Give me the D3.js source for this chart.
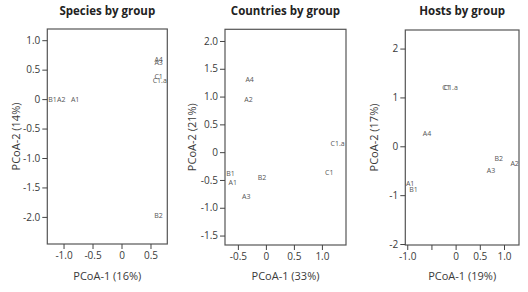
<!DOCTYPE html>
<html>
<head>
<meta charset="utf-8">
<script src="https://cdn.jsdelivr.net/npm/d3@7"></script>
<style>
  body { margin: 0; background: #fff; }
  svg { display: block; font-family: "Open Sans", sans-serif; }
</style>
</head>
<body>
<script>
// values (labels centred on their points)
const speciesLabels = ['B1', 'A2', 'A1', 'A4', 'A3', 'C1', 'C1.a', 'B2'],
      speciesX = [-1.19, -1.04, -0.80, 0.64, 0.64, 0.64, 0.66, 0.64],
      speciesY = [0, 0, 0, 0.67, 0.62, 0.38, 0.32, -1.98];

const countryLabels = ['A4', 'A2', 'C1.a', 'C1', 'B1', 'A1', 'B2', 'A3'],
      countryX = [-0.29, -0.31, 1.28, 1.13, -0.63, -0.59, -0.07, -0.35],
      countryY = [1.30, 0.94, 0.16, -0.37, -0.38, -0.55, -0.46, -0.79];

const hostLabels = ['C1', 'C1.a', 'A4', 'B2', 'A2', 'A3', 'A1', 'B1'],
      hostX = [-0.19, -0.10, -0.59, 0.89, 1.22, 0.73, -0.94, -0.87],
      hostY = [1.20, 1.20, 0.27, -0.25, -0.36, -0.49, -0.76, -0.88];

const titles = ['Species by group', 'Countries by group', 'Hosts by group'],
      xTitles = ['PCoA-1 (16%)', 'PCoA-1 (33%)', 'PCoA-1 (19%)'],
      yTitles = ['PCoA-2 (14%)', 'PCoA-2 (21%)', 'PCoA-2 (17%)'];

const speciesXTicks = [-1.0, -0.5, 0, 0.5],
      speciesYTicks = [1.0, 0.5, 0, -0.5, -1.0, -1.5, -2.0],
      countryXTicks = [-0.5, 0, 0.5, 1.0],
      countryYTicks = [2.0, 1.5, 1.0, 0.5, 0, -0.5, -1.0, -1.5],
      hostXTicks = [-1.0, -0.5, 0, 0.5, 1.0],
      hostXTickLabels = ['-1.0', '', '0', '0.5', '1.0'],
      hostYTicks = [2, 1, 0, -1, -2];

const width = 528,
      height = 292;

const svg = d3.select('body')
              .append('svg')
              .attr('width', width)
              .attr('height', height);

const fmt1 = (d) => d === 0 ? '0' : d3.format('.1f')(d).replace('−', '-');

const panels = [
  {
    box: [47.3, 167.3, 29, 244],
    xDomain: [-1.28, 0.79], yDomain: [-2.46, 1.19],
    labels: speciesLabels, xs: speciesX, ys: speciesY,
    xTicks: speciesXTicks, yTicks: speciesYTicks,
    xFmt: fmt1, yFmt: fmt1,
    yTitleX: 16
  },
  {
    box: [225, 346, 29.3, 245],
    xDomain: [-0.73, 1.43], yDomain: [-1.67, 2.21],
    labels: countryLabels, xs: countryX, ys: countryY,
    xTicks: countryXTicks, yTicks: countryYTicks,
    xFmt: fmt1, yFmt: fmt1,
    yTitleX: 192
  },
  {
    box: [405.3, 519, 30, 245],
    xDomain: [-1.04, 1.31], yDomain: [-2.02, 2.38],
    labels: hostLabels, xs: hostX, ys: hostY,
    xTicks: hostXTicks, yTicks: hostYTicks,
    xFmt: (d) => hostXTickLabels[hostXTicks.indexOf(d)],
    yFmt: (d) => String(d).replace('−', '-'),
    yTitleX: 374
  }
];

panels.forEach(function(p, i) {
  const [x0, x1, y0, y1] = p.box;

  const xScale = d3.scaleLinear().domain(p.xDomain).range([x0, x1]),
        yScale = d3.scaleLinear().domain(p.yDomain).range([y1, y0]);

  const g = svg.append('g');

  g.append('text')
   .attr('x', (x0 + x1) / 2)
   .attr('y', 15)
   .attr('text-anchor', 'middle')
   .style('font-size', '11.5px')
   .style('font-weight', 'bold')
   .attr('fill', '#222')
   .text(titles[i]);

  g.append('rect')
   .attr('x', x0)
   .attr('y', y0)
   .attr('width', x1 - x0)
   .attr('height', y1 - y0)
   .attr('fill', 'none')
   .attr('stroke', '#555')
   .attr('stroke-width', 1.2);

  const xAxis = g.append('g')
                 .attr('transform', 'translate(0,' + y1 + ')')
                 .call(d3.axisBottom(xScale)
                         .tickValues(p.xTicks)
                         .tickFormat(p.xFmt)
                         .tickSize(5)
                         .tickPadding(3));

  const yAxis = g.append('g')
                 .attr('transform', 'translate(' + x0 + ',0)')
                 .call(d3.axisLeft(yScale)
                         .tickValues(p.yTicks)
                         .tickFormat(p.yFmt)
                         .tickSize(5)
                         .tickPadding(2));

  [xAxis, yAxis].forEach(function(a) {
    a.select('.domain').remove();
    a.selectAll('line').attr('stroke', '#444');
    a.selectAll('text')
     .attr('fill', '#3a3a3a')
     .style('font-family', '"Open Sans", sans-serif')
     .style('font-size', '10px');
  });

  g.append('text')
   .attr('x', (x0 + x1) / 2)
   .attr('y', 280)
   .attr('text-anchor', 'middle')
   .attr('fill', '#3a3a3a')
   .style('font-size', '11px')
   .text(xTitles[i]);

  g.append('text')
   .attr('transform', 'translate(' + (p.yTitleX + 4) + ',' + ((y0 + y1) / 2) + ') rotate(-90)')
   .attr('text-anchor', 'middle')
   .attr('fill', '#3a3a3a')
   .style('font-size', '11px')
   .text(yTitles[i]);

  g.selectAll('.pt')
   .data(p.labels)
   .enter()
   .append('text')
   .attr('class', 'pt')
   .attr('x', (d, j) => xScale(p.xs[j]))
   .attr('y', (d, j) => yScale(p.ys[j]))
   .attr('dy', '0.35em')
   .attr('text-anchor', 'middle')
   .attr('fill', '#555')
   .style('font-size', '7px')
   .text((d) => d);
});
</script>
</body>
</html>
